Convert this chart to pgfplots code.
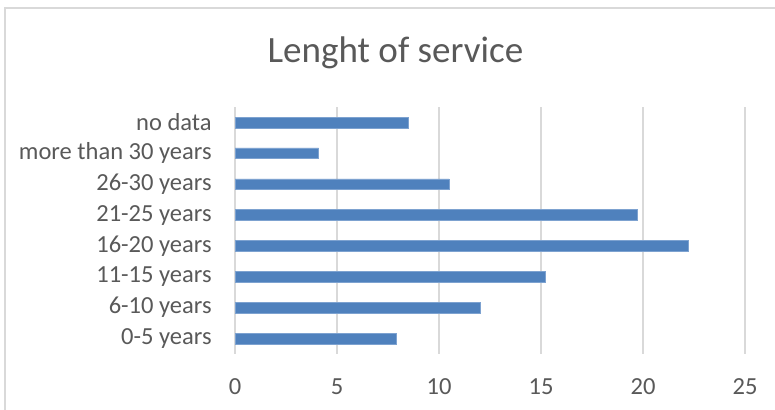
\documentclass[border=0pt]{standalone}
\usepackage{pgfplots}
\pgfplotsset{compat=1.18}
\usepackage{fontspec}
\setmainfont{Carlito}
\definecolor{barblue}{HTML}{4F81BD}
\definecolor{baredge}{HTML}{7DA2D0}
\definecolor{gridgray}{HTML}{D9D9D9}
\definecolor{textgray}{HTML}{595959}
\begin{document}
\begin{tikzpicture}[x=0.75pt,y=0.75pt]
\useasboundingbox (0,0) rectangle (775,410);
\draw[gridgray, line width=1.1pt] (5,-20) -- (5,402) -- (800,402);
\node[anchor=base, text=textgray, font=\fontsize{27.8pt}{32pt}\selectfont] at (395.5,347) {Lenght of service};
\begin{axis}[
  at={(235pt*0.75,56pt*0.75)}, anchor=south west,
  scale only axis,
  width=382.5pt, height=185.25pt,
  xbar, bar width=8pt,
  xmin=0, xmax=25,
  ymin=-0.5, ymax=7.5,
  xtick={0,5,10,15,20,25},
  ytick={0,...,7},
  yticklabels={0-5 years,6-10 years,11-15 years,16-20 years,21-25 years,26-30 years,more than 30 years,no data},
  xmajorgrids,
  grid style={gridgray, line width=1.1pt},
  axis line style={draw=none},
  major tick length=0pt,
  tick style={draw=none},
  ticklabel style={text=textgray, font=\fontsize{18.4pt}{21pt}\selectfont},
  /pgf/number format/assume math mode=true,
  xticklabel style={yshift=-15pt},
  yticklabel style={xshift=-14pt},
  clip=false,
]
\addplot[fill=barblue, draw=baredge, line width=0.4pt] coordinates {
(7.9,0) (12.0,1) (15.2,2) (22.2,3) (19.7,4) (10.5,5) (4.1,6) (8.5,7)
};
\end{axis}
\end{tikzpicture}
\end{document}
